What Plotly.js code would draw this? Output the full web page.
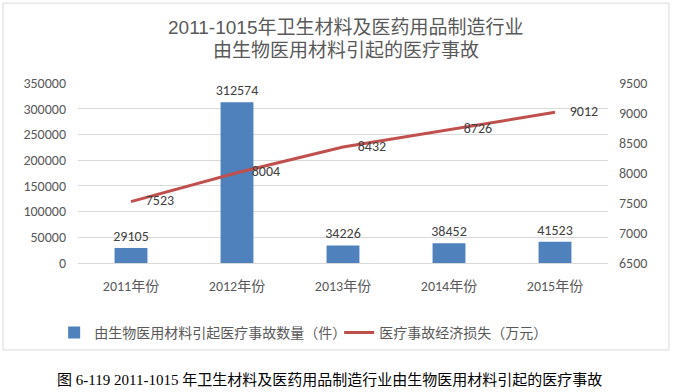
<!DOCTYPE html>
<html><head><meta charset="utf-8">
<script src="https://cdn.plot.ly/plotly-3.0.1.min.js"></script>
<style>html,body{margin:0;padding:0;background:#fff;}#chart{width:673px;height:392px;}</style>
</head><body><div id="chart"></div>
<script>
const categories = ["2011年份", "2012年份", "2013年份", "2014年份", "2015年份"];
const accidentCounts = [29105, 312574, 34226, 38452, 41523];
const economicLoss = [7523, 8004, 8432, 8726, 9012];
const leftTicks = [0, 50000, 100000, 150000, 200000, 250000, 300000, 350000];
const rightTicks = [6500, 7000, 7500, 8000, 8500, 9000, 9500];
const barName = "由生物医用材料引起医疗事故数量（件）";
const lineName = "医疗事故经济损失（万元）";
const titleLine1 = "2011-1015年卫生材料及医药用品制造行业";
const titleLine2 = "由生物医用材料引起的医疗事故";
const captionText = "图 6-119 2011-1015 年卫生材料及医药用品制造行业由生物医用材料引起的医疗事故";

const gray = "#595959";
const font = "Carlito, 'Liberation Sans', 'Noto Sans CJK SC', sans-serif";

const traces = [
  {type: "bar", x: categories, y: accidentCounts, name: barName,
   marker: {color: "#4F81BD"}, width: 0.31,
   text: accidentCounts.map(String), textposition: "outside", constraintext: "none",
   textfont: {color: "#404040", size: 14, family: font}, cliponaxis: false},
  {type: "scatter", mode: "lines+markers+text", x: categories, y: economicLoss, yaxis: "y2", name: lineName,
   line: {color: "#C0504D", width: 3}, marker: {size: 22, color: "rgba(0,0,0,0)"},
   text: economicLoss.map(String), textposition: "middle right",
   textfont: {color: "#404040", size: 14, family: font}, cliponaxis: false}
];

const layout = {
  width: 673, height: 392,
  margin: {l: 78, r: 65, t: 83, b: 129},
  paper_bgcolor: "#fff", plot_bgcolor: "#fff",
  font: {family: font, color: gray, size: 14},
  showlegend: true,
  legend: {orientation: "h", x: -0.045, xanchor: "left", y: -0.30, yanchor: "top",
           font: {size: 14, color: gray}, entrywidth: 240, traceorder: "normal",
           itemwidth: 30},
  xaxis: {type: "category", showgrid: false, showline: true, linecolor: "#D9D9D9", ticks: "",
          ticklabelstandoff: 10, tickfont: {size: 14, color: gray}, fixedrange: true},
  yaxis: {range: [0, 350000], tickvals: leftTicks, ticktext: leftTicks.map(String),
          showgrid: true, gridcolor: "#D9D9D9", zeroline: false, ticks: "",
          ticklabelstandoff: 11, tickfont: {size: 14, color: gray}},
  yaxis2: {range: [6500, 9500], tickvals: rightTicks, ticktext: rightTicks.map(String), overlaying: "y", side: "right",
           showgrid: false, zeroline: false, ticklabelstandoff: 10, tickfont: {size: 14, color: gray}},
  shapes: [{type: "rect", xref: "paper", yref: "paper", x0: -0.1415, x1: 1.115, y0: -0.483, y1: 1.444,
            line: {color: "#D9D9D9", width: 1}, fillcolor: "rgba(0,0,0,0)", layer: "below"}],
  annotations: [
    {text: titleLine1, xref: "paper", yref: "paper", x: 0.505, y: (263 - 28) / 180, xanchor: "center", yanchor: "middle",
     showarrow: false, font: {size: 19, color: gray, family: "'Liberation Sans', 'Noto Sans CJK SC', sans-serif"}},
    {text: titleLine2, xref: "paper", yref: "paper", x: 0.505, y: (263 - 51) / 180, xanchor: "center", yanchor: "middle",
     showarrow: false, font: {size: 19, color: gray, family: "'Liberation Sans', 'Noto Sans CJK SC', sans-serif"}},
    {text: captionText, xref: "paper", yref: "paper", x: 0.475, y: -0.65, xanchor: "center", yanchor: "middle",
     showarrow: false, font: {size: 15, color: "#000", family: "'Liberation Serif', 'Noto Sans CJK SC', serif"}}
  ]
};

Plotly.newPlot("chart", traces, layout, {displayModeBar: false, staticPlot: true});
</script></body></html>
